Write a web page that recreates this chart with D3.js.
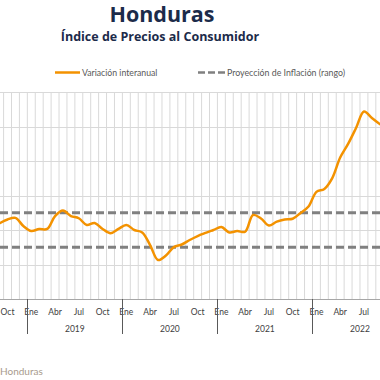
<!DOCTYPE html>
<html>
<head>
<meta charset="utf-8">
<script src="https://cdn.jsdelivr.net/npm/d3@7"></script>
<style>
  html, body { margin: 0; padding: 0; background: #ffffff; }
  svg { display: block; }
</style>
</head>
<body>
<div id="chart"></div>
<script>
// ---- Data ----
const years = [2018, 2019, 2020, 2021, 2022];
const monthNames = ["Ene", "Feb", "Mar", "Abr", "May", "Jun", "Jul", "Ago", "Sep", "Oct", "Nov", "Dic"];
const shownMonths = ["Ene", "Abr", "Jul", "Oct"];
const seriesStart = "Sep 2018";
// Variación interanual (%), Sep 2018 – Sep 2022
const inflation = [
  4.39, 4.61, 4.70, 4.23,                                              // 2018 Sep-Dic
  3.94, 4.06, 4.06, 4.81, 5.13, 4.81, 4.68, 4.29, 4.41, 4.06, 3.81, 4.06, // 2019
  4.29, 4.00, 3.86, 3.13, 2.26, 2.52, 3.01, 3.16, 3.42, 3.65, 3.83, 4.00, // 2020
  4.17, 3.86, 3.94, 3.90, 4.87, 4.67, 4.26, 4.49, 4.61, 4.65, 4.99, 5.36, // 2021
  6.21, 6.38, 7.01, 8.20, 8.99, 9.91, 10.87, 10.49, 10.14                 // 2022 Ene-Sep
];
const targetRange = [3, 5];
const yTicks = [0, 2, 4, 6, 8, 10, 12];
const titleText = "Honduras";
const subtitleText = "Índice de Precios al Consumidor";
const legendLabels = ["Variación interanual", "Proyección de Inflación (rango)"];
const sourceText = "Honduras";

// ---- Build categories ----
const categories = [];
years.forEach(y => monthNames.forEach(m => categories.push(m + " " + y)));
const startIdx = categories.indexOf(seriesStart);
const points = inflation.map((v, i) => ({ cat: categories[startIdx + i], v }));

// ---- Layout ----
const W = 380, H = 380;
const svg = d3.select("#chart").append("svg").attr("width", W).attr("height", H);
const font = "Lato, 'Open Sans', sans-serif";

const x = d3.scaleBand().domain(categories).range([-67.7, -67.7 + 7.92 * categories.length]).paddingInner(0).paddingOuter(0);
const y = d3.scaleLinear().domain([0, 12]).range([299, 92]);
const plotLeft = 0, plotRight = W;
const inView = (cx, half) => cx - half >= -1 && cx + half <= W + 1;

// Title
svg.append("text").attr("x", 162).attr("y", 22).attr("text-anchor", "middle")
  .attr("font-family", "'Open Sans', Lato, sans-serif").attr("font-weight", 700)
  .attr("font-size", 21.5).attr("fill", "#1c2b4a").text(titleText);
svg.append("text").attr("x", 160).attr("y", 41).attr("text-anchor", "middle")
  .attr("font-family", "'Open Sans', Lato, sans-serif").attr("font-weight", 700)
  .attr("font-size", 12.5).attr("fill", "#1c2b4a").text(subtitleText);

// Legend
const lg = svg.append("g");
lg.append("line").attr("x1", 55).attr("x2", 80).attr("y1", 72.5).attr("y2", 72.5)
  .attr("stroke", "#f39200").attr("stroke-width", 2.5);
lg.append("text").attr("x", 82).attr("y", 75.5).attr("font-family", font).attr("font-size", 8.7)
  .attr("fill", "#595959").text(legendLabels[0]);
lg.append("line").attr("x1", 198).attr("x2", 225).attr("y1", 72.5).attr("y2", 72.5)
  .attr("stroke", "#808080").attr("stroke-width", 2.5).attr("stroke-dasharray", "7,3");
lg.append("text").attr("x", 227).attr("y", 75.5).attr("font-family", font).attr("font-size", 8.8)
  .attr("fill", "#595959").text(legendLabels[1]);

// Horizontal gridlines
svg.append("g").selectAll("line").data(yTicks.filter(t => t > 0)).join("line")
  .attr("x1", plotLeft).attr("x2", plotRight)
  .attr("y1", d => Math.round(y(d)) + 0.5).attr("y2", d => Math.round(y(d)) + 0.5)
  .attr("stroke", "#d9d9d9").attr("stroke-width", 1);

// Vertical gridlines at month boundaries
svg.append("g").selectAll("line").data(categories).join("line")
  .attr("x1", d => x(d)).attr("x2", d => x(d))
  .attr("y1", y(12)).attr("y2", y(0))
  .attr("stroke", "#d9d9d9").attr("stroke-width", 1);

// Target range dashed lines
svg.append("g").selectAll("line").data(targetRange).join("line")
  .attr("x1", plotLeft).attr("x2", plotRight)
  .attr("y1", d => y(d)).attr("y2", d => y(d))
  .attr("stroke", "#808080").attr("stroke-width", 3).attr("stroke-dasharray", "8,4");

// X axis line
svg.append("line").attr("x1", plotLeft).attr("x2", plotRight)
  .attr("y1", Math.round(y(0)) + 0.5).attr("y2", Math.round(y(0)) + 0.5)
  .attr("stroke", "#a6a6a6").attr("stroke-width", 1);

// Month labels (only those within the visible window)
svg.append("g").selectAll("text")
  .data(categories.filter(c => shownMonths.includes(c.split(" ")[0]) && inView(x(c) + x.bandwidth() / 2, 7)))
  .join("text")
  .attr("x", d => x(d) + x.bandwidth() / 2).attr("y", 315)
  .attr("text-anchor", "middle").attr("font-family", font).attr("font-size", 8.5)
  .attr("fill", "#404040").text(d => d.split(" ")[0]);

// Year separators and labels
svg.append("g").selectAll("line").data(years).join("line")
  .attr("x1", d => Math.round(x("Ene " + d)) + 0.5).attr("x2", d => Math.round(x("Ene " + d)) + 0.5)
  .attr("y1", y(0)).attr("y2", 334)
  .attr("stroke", "#595959").attr("stroke-width", 1);
const yearCenter = d => (x("Ene " + d) + x("Dic " + d) + x.bandwidth()) / 2;
svg.append("g").selectAll("text").data(years.filter(d => inView(yearCenter(d), 10))).join("text")
  .attr("x", yearCenter).attr("y", 332)
  .attr("text-anchor", "middle").attr("font-family", font).attr("font-size", 8.5)
  .attr("fill", "#404040").text(d => d);

// Inflation line
const line = d3.line()
  .x(d => x(d.cat) + x.bandwidth() / 2)
  .y(d => y(d.v))
  .curve(d3.curveCatmullRom.alpha(0.5));
svg.append("path").datum(points).attr("d", line)
  .attr("fill", "none").attr("stroke", "#f39200").attr("stroke-width", 2.5)
  .attr("stroke-linejoin", "round").attr("stroke-linecap", "round");

// Source
svg.append("text").attr("x", 0).attr("y", 375).attr("font-family", font).attr("font-size", 10)
  .attr("fill", "#a89a8c").text(sourceText);
</script>
</body>
</html>
